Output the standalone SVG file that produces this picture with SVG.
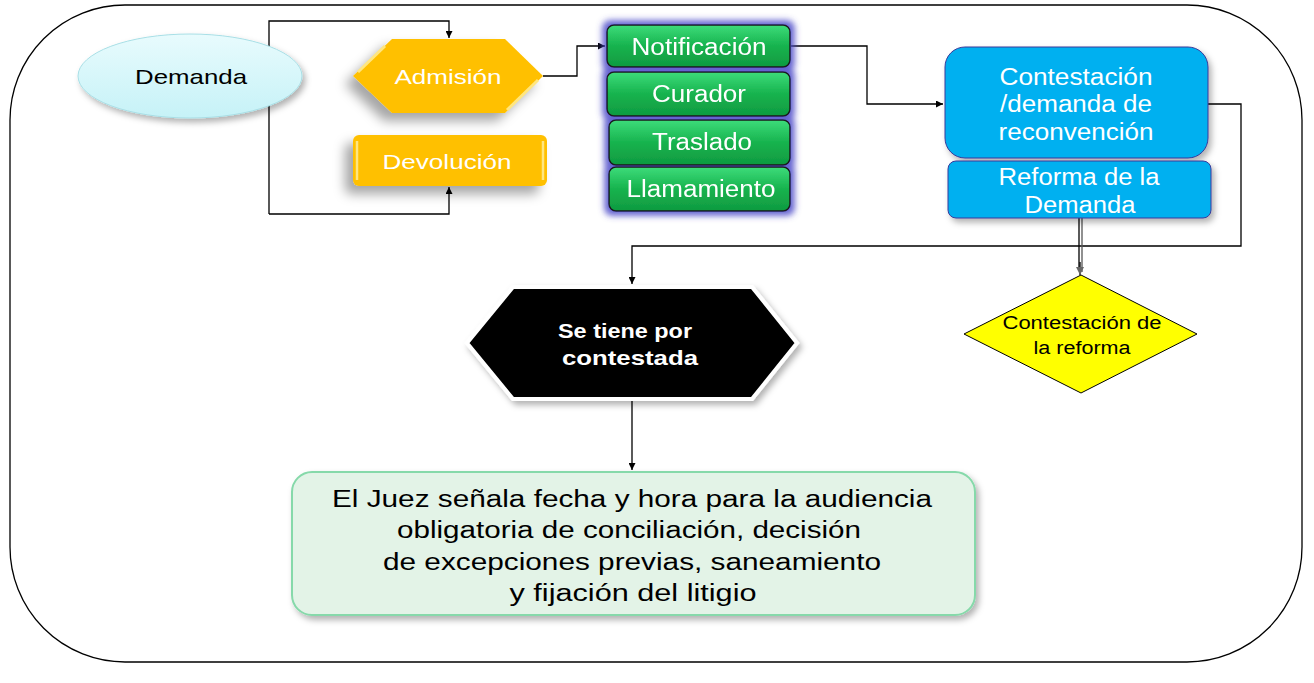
<svg xmlns="http://www.w3.org/2000/svg" width="1314" height="683" viewBox="0 0 1314 683">
<defs>
<style>
.t{font-family:"Liberation Sans",Arial,sans-serif;text-anchor:middle}
.w{fill:#fff}
.k{fill:#000}
.ln{fill:none;stroke:#000;stroke-width:1.3}
.gb{fill:url(#gg);stroke:#1a1a1a;stroke-width:1.5}
.bl{fill:#00b0f0;stroke:#3a3a9a;stroke-width:1}
</style>
<linearGradient id="dem" x1="0" y1="0" x2="0" y2="1"><stop offset="0" stop-color="#e8fbfd"/><stop offset="1" stop-color="#c6f2f7"/></linearGradient>
<linearGradient id="gg" x1="0" y1="0" x2="0" y2="1"><stop offset="0" stop-color="#3ddc7a"/><stop offset="0.5" stop-color="#17b34e"/><stop offset="1" stop-color="#0f9a40"/></linearGradient>
<filter id="sh" x="-30%" y="-30%" width="160%" height="180%"><feDropShadow dx="-8" dy="8" stdDeviation="6" flood-color="#000" flood-opacity="0.35"/></filter>
<filter id="sh2" x="-10%" y="-10%" width="120%" height="130%"><feDropShadow dx="3" dy="4" stdDeviation="3" flood-color="#000" flood-opacity="0.3"/></filter>
<filter id="glow" x="-20%" y="-20%" width="140%" height="140%"><feMorphology in="SourceAlpha" operator="dilate" radius="4" result="d"/><feGaussianBlur in="d" stdDeviation="3" result="b"/><feFlood flood-color="#4a48c8" flood-opacity="0.85"/><feComposite in2="b" operator="in" result="g"/><feMerge><feMergeNode in="g"/><feMergeNode in="SourceGraphic"/></feMerge></filter>
<marker id="ar" viewBox="0 0 10 10" refX="10" refY="5" markerWidth="7" markerHeight="7" orient="auto" markerUnits="userSpaceOnUse"><path d="M0,0 L10,5 L0,10 z" fill="#000"/></marker>
<marker id="arg" viewBox="0 0 10 10" refX="10" refY="5" markerWidth="8" markerHeight="8" orient="auto" markerUnits="userSpaceOnUse"><path d="M0,0 L10,5 L0,10 z" fill="#666"/></marker>
</defs>
<rect x="0" y="0" width="1314" height="683" fill="#fff"/>
<rect id="frame" x="10" y="5" width="1292" height="657" rx="115" ry="115" fill="none" stroke="#000" stroke-width="1.3"/>

<g id="connectors">
<polyline class="ln" points="269,214 269,21 449,21 449,38" marker-end="url(#ar)"/>
<polyline class="ln" points="269,214 449,214 449,187" marker-end="url(#ar)"/>
<polyline class="ln" points="543,76 577,76 577,46 605,46" marker-end="url(#ar)"/>
<polyline class="ln" points="791,46 867,46 867,104 943,104" marker-end="url(#ar)"/>
<polyline class="ln" points="1208,104 1241,104 1241,246 632,246 632,284" marker-end="url(#ar)"/>
<line class="ln" x1="1079" y1="218" x2="1079" y2="270"/>
<line x1="1082" y1="218" x2="1082" y2="272" stroke="#555" stroke-width="1.3"/>
<line class="ln" x1="1080" y1="262" x2="1080" y2="275" marker-end="url(#arg)"/>
<line class="ln" x1="632" y1="400" x2="632" y2="470" marker-end="url(#ar)"/>
</g>

<g id="demanda">
<ellipse cx="190" cy="76" rx="112" ry="42" fill="url(#dem)" stroke="#a8dfe6" stroke-width="1" filter="url(#sh2)"/>
<text class="t k" x="191" y="84" font-size="21" textLength="112" lengthAdjust="spacingAndGlyphs">Demanda</text>
</g>

<g id="admision">
<polygon points="353,76 392,39 505,39 543,76 505,113 392,113" fill="#ffc000" filter="url(#sh)"/>
<line x1="358" y1="72" x2="385" y2="46" stroke="#ffe680" stroke-width="3"/>
<line x1="507" y1="110" x2="538" y2="80" stroke="#ffe680" stroke-width="3"/>
<text class="t w" x="448" y="84" font-size="21" textLength="107" lengthAdjust="spacingAndGlyphs">Admisión</text>
</g>

<g id="devolucion">
<rect x="353" y="135" width="194" height="51" rx="6" fill="#ffc000" filter="url(#sh)"/>
<line x1="357" y1="141" x2="357" y2="180" stroke="#ffe680" stroke-width="2.5"/>
<line x1="543" y1="141" x2="543" y2="180" stroke="#ffe680" stroke-width="2.5"/>
<text class="t w" x="447" y="169" font-size="21" textLength="129" lengthAdjust="spacingAndGlyphs">Devolución</text>
</g>

<g id="verdes" filter="url(#glow)">
<g id="notificacion"><rect class="gb" x="607" y="25" width="183" height="42" rx="7"/><text class="t w" x="699" y="55" font-size="23" textLength="135" lengthAdjust="spacingAndGlyphs">Notificación</text></g>
<g id="curador"><rect class="gb" x="607" y="72" width="183" height="44" rx="7"/><text class="t w" x="699" y="102" font-size="23" textLength="94" lengthAdjust="spacingAndGlyphs">Curador</text></g>
<g id="traslado"><rect class="gb" x="609" y="120" width="181" height="45" rx="7"/><text class="t w" x="702" y="150" font-size="23" textLength="100" lengthAdjust="spacingAndGlyphs">Traslado</text></g>
<g id="llamamiento"><rect class="gb" x="609" y="167" width="181" height="44" rx="7"/><text class="t w" x="701" y="197" font-size="23" textLength="149" lengthAdjust="spacingAndGlyphs">Llamamiento</text></g>
</g>

<g id="contestacion">
<rect class="bl" x="945" y="47" width="263" height="111" rx="20" filter="url(#sh2)"/>
<text class="t w" x="1076" y="85" font-size="23" textLength="153" lengthAdjust="spacingAndGlyphs">Contestación</text>
<text class="t w" x="1076" y="112" font-size="23" textLength="152" lengthAdjust="spacingAndGlyphs">/demanda de</text>
<text class="t w" x="1076" y="140" font-size="23" textLength="155" lengthAdjust="spacingAndGlyphs">reconvención</text>
</g>

<g id="reforma">
<rect class="bl" x="948" y="161" width="263" height="57" rx="8" filter="url(#sh2)"/>
<text class="t w" x="1079" y="185" font-size="23" textLength="161" lengthAdjust="spacingAndGlyphs">Reforma de la</text>
<text class="t w" x="1080" y="213" font-size="23" textLength="111" lengthAdjust="spacingAndGlyphs">Demanda</text>
</g>

<g id="contestacion-reforma">
<polygon points="1081,275 1197,334 1081,393 964,334" fill="#ffff00" stroke="#000" stroke-width="1"/>
<text class="t k" x="1082" y="329" font-size="18" textLength="159" lengthAdjust="spacingAndGlyphs">Contestación de</text>
<text class="t k" x="1082" y="354" font-size="18" textLength="97" lengthAdjust="spacingAndGlyphs">la reforma</text>
</g>

<g id="se-tiene">
<polygon points="467,343 513,287 752,287 797,343 752,399 513,399" fill="#000" stroke="#fff" stroke-width="4" filter="url(#sh2)"/>
<text class="t w" x="625" y="338" font-size="21" font-weight="bold" textLength="134" lengthAdjust="spacingAndGlyphs">Se tiene por</text>
<text class="t w" x="630" y="365" font-size="21" font-weight="bold" textLength="136" lengthAdjust="spacingAndGlyphs">contestada</text>
</g>

<g id="juez">
<rect x="292" y="472" width="683" height="143" rx="20" fill="#e3f3e7" stroke="#86d9aa" stroke-width="2" filter="url(#sh2)"/>
<text class="t k" x="632" y="507" font-size="23" textLength="600" lengthAdjust="spacingAndGlyphs">El Juez señala fecha y hora para la audiencia</text>
<text class="t k" x="629" y="538" font-size="23" textLength="464" lengthAdjust="spacingAndGlyphs">obligatoria de conciliación, decisión</text>
<text class="t k" x="632" y="570" font-size="23" textLength="498" lengthAdjust="spacingAndGlyphs">de excepciones previas, saneamiento</text>
<text class="t k" x="633" y="601" font-size="23" textLength="247" lengthAdjust="spacingAndGlyphs">y fijación del litigio</text>
</g>
</svg>
